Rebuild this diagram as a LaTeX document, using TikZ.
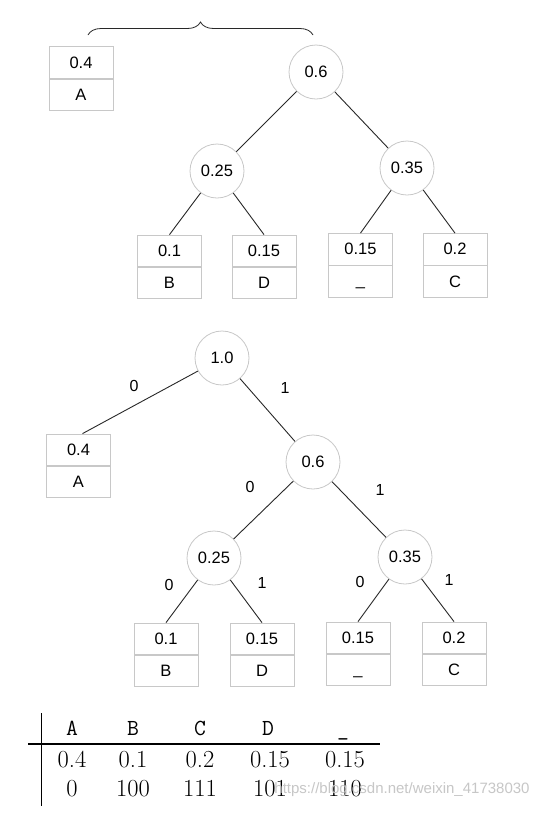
\documentclass[tikz,border=0pt]{standalone}
\usepackage{fontspec}
\newfontfamily\arialf{Liberation Sans}
\usetikzlibrary{decorations.pathreplacing,positioning}
\definecolor{boxgray}{RGB}{200,200,200}
\definecolor{edgec}{RGB}{40,40,40}
\begin{document}
\begin{tikzpicture}[x=1pt,y=-1pt,
  cell/.style={draw=boxgray, line width=0.8pt, minimum width=64pt, minimum height=31.5pt, inner sep=0pt, font=\arialf\fontsize{16.5}{16.5}\selectfont},
  knot/.style={circle, draw=boxgray, line width=0.8pt, minimum size=54pt, inner sep=0pt, font=\arialf\fontsize{16.5}{16.5}\selectfont},
  conn/.style={draw=edgec, line width=0.9pt},
  lab/.style={font=\arialf\fontsize{16}{16}\selectfont, inner sep=0pt},
  tab/.style={font=\fontsize{24.5}{24.5}\selectfont, inner sep=0pt, anchor=base},
  tabh/.style={font=\ttfamily\fontsize{23}{23}\selectfont, inner sep=0pt, anchor=base}]
\useasboundingbox (0,0) rectangle (552,815);
\fill[white] (0,0) rectangle (552,815);

% ---------- top tree ----------
\draw[edgec, line width=0.8pt, decorate, decoration={brace, amplitude=13pt}] (88,35) -- (313,35);

\node[cell] (A1) at (81,62.5) {0.4};
\node[cell, below=0pt of A1] (A1l) {A};

\node[knot] (t06) at (316,72) {0.6};
\node[knot] (t025) at (217,171) {0.25};
\node[knot] (t035) at (407,168) {0.35};

\node[cell] (B1) at (169.5,250.75) {0.1};
\node[cell, below=0pt of B1] (B1l) {B};
\node[cell] (D1) at (264,250.75) {0.15};
\node[cell, below=0pt of D1] (D1l) {D};
\node[cell] (U1) at (360.5,249.25) {0.15};
\node[cell, below=0pt of U1] (U1l) {\smash{\raisebox{-4pt}{\_}}};
\node[cell] (C1) at (455,249.25) {0.2};
\node[cell, below=0pt of C1] (C1l) {C};

\draw[conn] (t06) -- (t025);
\draw[conn] (t06) -- (t035);
\draw[conn] (t025) -- (B1.north);
\draw[conn] (t025) -- (D1.north);
\draw[conn] (t035) -- (U1.north);
\draw[conn] (t035) -- (C1.north);

% ---------- bottom tree ----------
\node[knot] (r) at (222,358) {1.0};
\node[cell] (A2) at (78.5,449.75) {0.4};
\node[cell, below=0pt of A2] (A2l) {A};
\node[knot] (b06) at (313,462) {0.6};
\node[knot] (b025) at (214,558) {0.25};
\node[knot] (b035) at (405,557) {0.35};

\node[cell] (B2) at (166,638.75) {0.1};
\node[cell, below=0pt of B2] (B2l) {B};
\node[cell] (D2) at (262,638.75) {0.15};
\node[cell, below=0pt of D2] (D2l) {D};
\node[cell] (U2) at (358,637.75) {0.15};
\node[cell, below=0pt of U2] (U2l) {\smash{\raisebox{-4pt}{\_}}};
\node[cell] (C2) at (454,637.75) {0.2};
\node[cell, below=0pt of C2] (C2l) {C};

\draw[conn] (r) -- ([xshift=4pt]A2.north);
\draw[conn] (r) -- (b06);
\draw[conn] (b06) -- (b025);
\draw[conn] (b06) -- (b035);
\draw[conn] (b025) -- (B2.north);
\draw[conn] (b025) -- (D2.north);
\draw[conn] (b035) -- (U2.north);
\draw[conn] (b035) -- (C2.north);

\node[lab] (l1) at (134,386) {0};
\node[lab] (l2) at (285,388) {1};
\node[lab] (l3) at (250,487) {0};
\node[lab] (l4) at (380,490) {1};
\node[lab] (l5) at (169,585) {0};
\node[lab] (l6) at (262,583) {1};
\node[lab] (l7) at (360,582) {0};
\node[lab] (l8) at (449,580) {1};

% ---------- table ----------
\draw[black, line width=1pt] (41,713) -- (41,806);
\draw[black, line width=1.4pt] (28,744) -- (380,744);

\node[tabh] (hA) at (72,735) {A};
\node[tabh] (hB) at (133,735) {B};
\node[tabh] (hC) at (200,735) {C};
\node[tabh] (hD) at (268,735) {D};
\node[tabh] (hU) at (343,735) {\_};

\node[tab] (pA) at (72,767) {0.4};
\node[tab] (pB) at (133,767) {0.1};
\node[tab] (pC) at (200,767) {0.2};
\node[tab] (pD) at (270,767) {0.15};
\node[tab] (pU) at (345,767) {0.15};

\node[tab] (cA) at (72,796) {0};
\node[tab] (cB) at (133,796) {100};
\node[tab] (cC) at (200,796) {111};
\node[tab] (cD) at (270,796) {101};
\node[tab] (cU) at (345,796) {110};

\node[font=\arialf\fontsize{15}{15}\selectfont, text=black!22, inner sep=0pt] (wm) at (402,790) {https://blog.csdn.net/weixin\_41738030};
\end{tikzpicture}
\end{document}
